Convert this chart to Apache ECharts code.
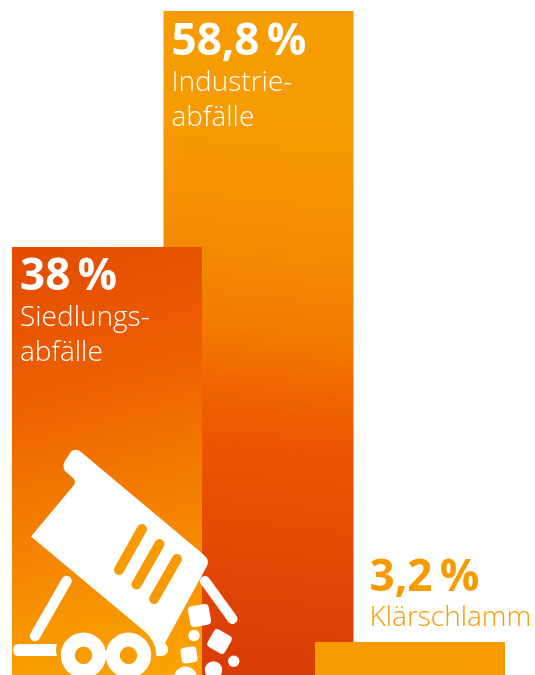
<!DOCTYPE html>
<html lang="de">
<head>
<meta charset="utf-8">
<title>Abfallarten</title>
<style>html,body{margin:0;padding:0;background:#fff}#chart{width:535px;height:675px}</style>
<script src="https://cdn.jsdelivr.net/npm/echarts@6/dist/echarts.min.js"></script>
</head>
<body>
<div id="chart"></div>
<script>
// Anteile der Abfallarten in Prozent
const categories = ['Siedlungs-\nabfälle', 'Industrie-\nabfälle', 'Klärschlamm'];
const shares = [38, 58.8, 3.2];

const ORANGE = '#f79a00';
const FONT = '"Open Sans", "Noto Sans", sans-serif';

const gradient = (x, y, x2, y2, stops) => new echarts.graphic.LinearGradient(x, y, x2, y2,
  stops.map(([offset, color]) => ({ offset, color })));

const fills = [
  gradient(0.18, 0, 0.82, 1, [[0, '#e34c00'], [0.3, '#ed5e00'], [0.5, '#f17400'], [0.85, '#f89800'], [1, '#fba300']]),
  gradient(0.7, 0, 0.3, 1, [[0, '#f79c00'], [0.16, '#f79c00'], [0.4, '#f48600'], [0.48, '#f27b00'],
    [0.56, '#f06600'], [0.64, '#ec5600'], [1, '#d83a05']]),
  ORANGE
];
const labelColors = ['#fff', '#fff', ORANGE];
const labelOffsets = [[8, 7.5], [8, 8.5], [54.5, -87]];
const layers = [2, 1, 2];

const valueText = v => String(v).replace('.', ',') + '\u2009%';

const series = categories.map((name, i) => ({
  type: 'bar',
  name,
  barWidth: 190,
  barGap: '-100%',
  clip: false,
  z: layers[i],
  silent: true,
  itemStyle: { color: fills[i] },
  data: categories.map((_, j) => (i === j ? shares[i] : null)),
  label: {
    show: true,
    position: labelOffsets[i],
    align: 'left',
    verticalAlign: 'top',
    formatter: () => `{v|${valueText(shares[i])}}\n{n|${name.split('\n').join('}\n{n|')}}`,
    rich: {
      v: { fontFamily: FONT, fontSize: 44, fontWeight: 700, color: labelColors[i], lineHeight: 46 },
      n: { fontFamily: FONT, fontSize: 28, fontWeight: 300, color: labelColors[i], lineHeight: 35 }
    }
  }
}));

// Kippfahrzeug-Symbol über dem Siedlungsabfall-Balken
const registerOutline = (name, pathData) =>
  echarts.graphic.registerShape(name, echarts.graphic.extendPath(pathData, {}));
registerOutline('tipperBody',
  'M71 451.5 Q76 448 81 452 L204 555 Q210 560 207 566 L165 643 ' +
  'Q169 648 168 651 Q166 656 161 656 L156.5 656 ' +
  'Q156 640 143 630 L31 536.5 L74 485 Q76 481 73 478 L65 471 Q62 466 65 461 Z');
registerOutline('tipperBumper',
  'M19 644 L57 644 Q55 650 57 656 L19 656 Q13 656 13 650 Q13 644 19 644 Z');

const white = { fill: '#fff' };
const outline = type => ({ type, z: 10, silent: true, style: white });
const block = (x, y, size, rotation) => ({
  type: 'rect', x, y, rotation, z: 10, silent: true, style: white,
  shape: { x: -size / 2, y: -size / 2, width: size, height: size, r: 4 }
});
const dot = (cx, cy, r) => ({ type: 'circle', z: 10, silent: true, style: white, shape: { cx, cy, r } });
const stroke = (x1, y1, x2, y2, width, color) => ({
  type: 'line', z: color === '#fff' ? 10 : 11, silent: true,
  shape: { x1, y1, x2, y2 },
  style: { stroke: color, lineWidth: width, lineCap: 'round' }
});
const wheel = cx => ({ type: 'ring', z: 10, silent: true, style: white, shape: { cx, cy: 655.3, r: 22.7, r0: 8.7 } });

const icon = [
  outline('tipperBody'),
  outline('tipperBumper'),
  stroke(66.5, 581, 35, 636, 10.5, '#fff'),
  stroke(205, 581, 232.5, 619, 10, '#fff'),
  stroke(142, 529, 119, 570, 10, ORANGE),
  stroke(159.5, 544, 136.5, 584.5, 10, ORANGE),
  stroke(177, 559, 154, 599, 10, ORANGE),
  wheel(83.5),
  wheel(128.5),
  block(199.5, 615.5, 21, 0.18),
  block(219.5, 641.5, 20, -0.52),
  block(189, 655, 16, 0.14),
  dot(194, 635.5, 5.7),
  dot(185.5, 678, 11.5),
  dot(213.5, 670, 8.7),
  dot(233.7, 661.3, 5.7)
];

const chart = echarts.init(document.getElementById('chart'), null, { renderer: 'canvas' });
chart.setOption({
  animation: false,
  backgroundColor: '#fff',
  grid: { left: 31.25, right: 49.25, top: 11, bottom: -3.3, outerBoundsMode: 'none' },
  xAxis: { type: 'category', data: categories, show: false, boundaryGap: true },
  yAxis: { type: 'value', min: 0, max: 58.8, show: false },
  series,
  graphic: icon
});
</script>
</body>
</html>
